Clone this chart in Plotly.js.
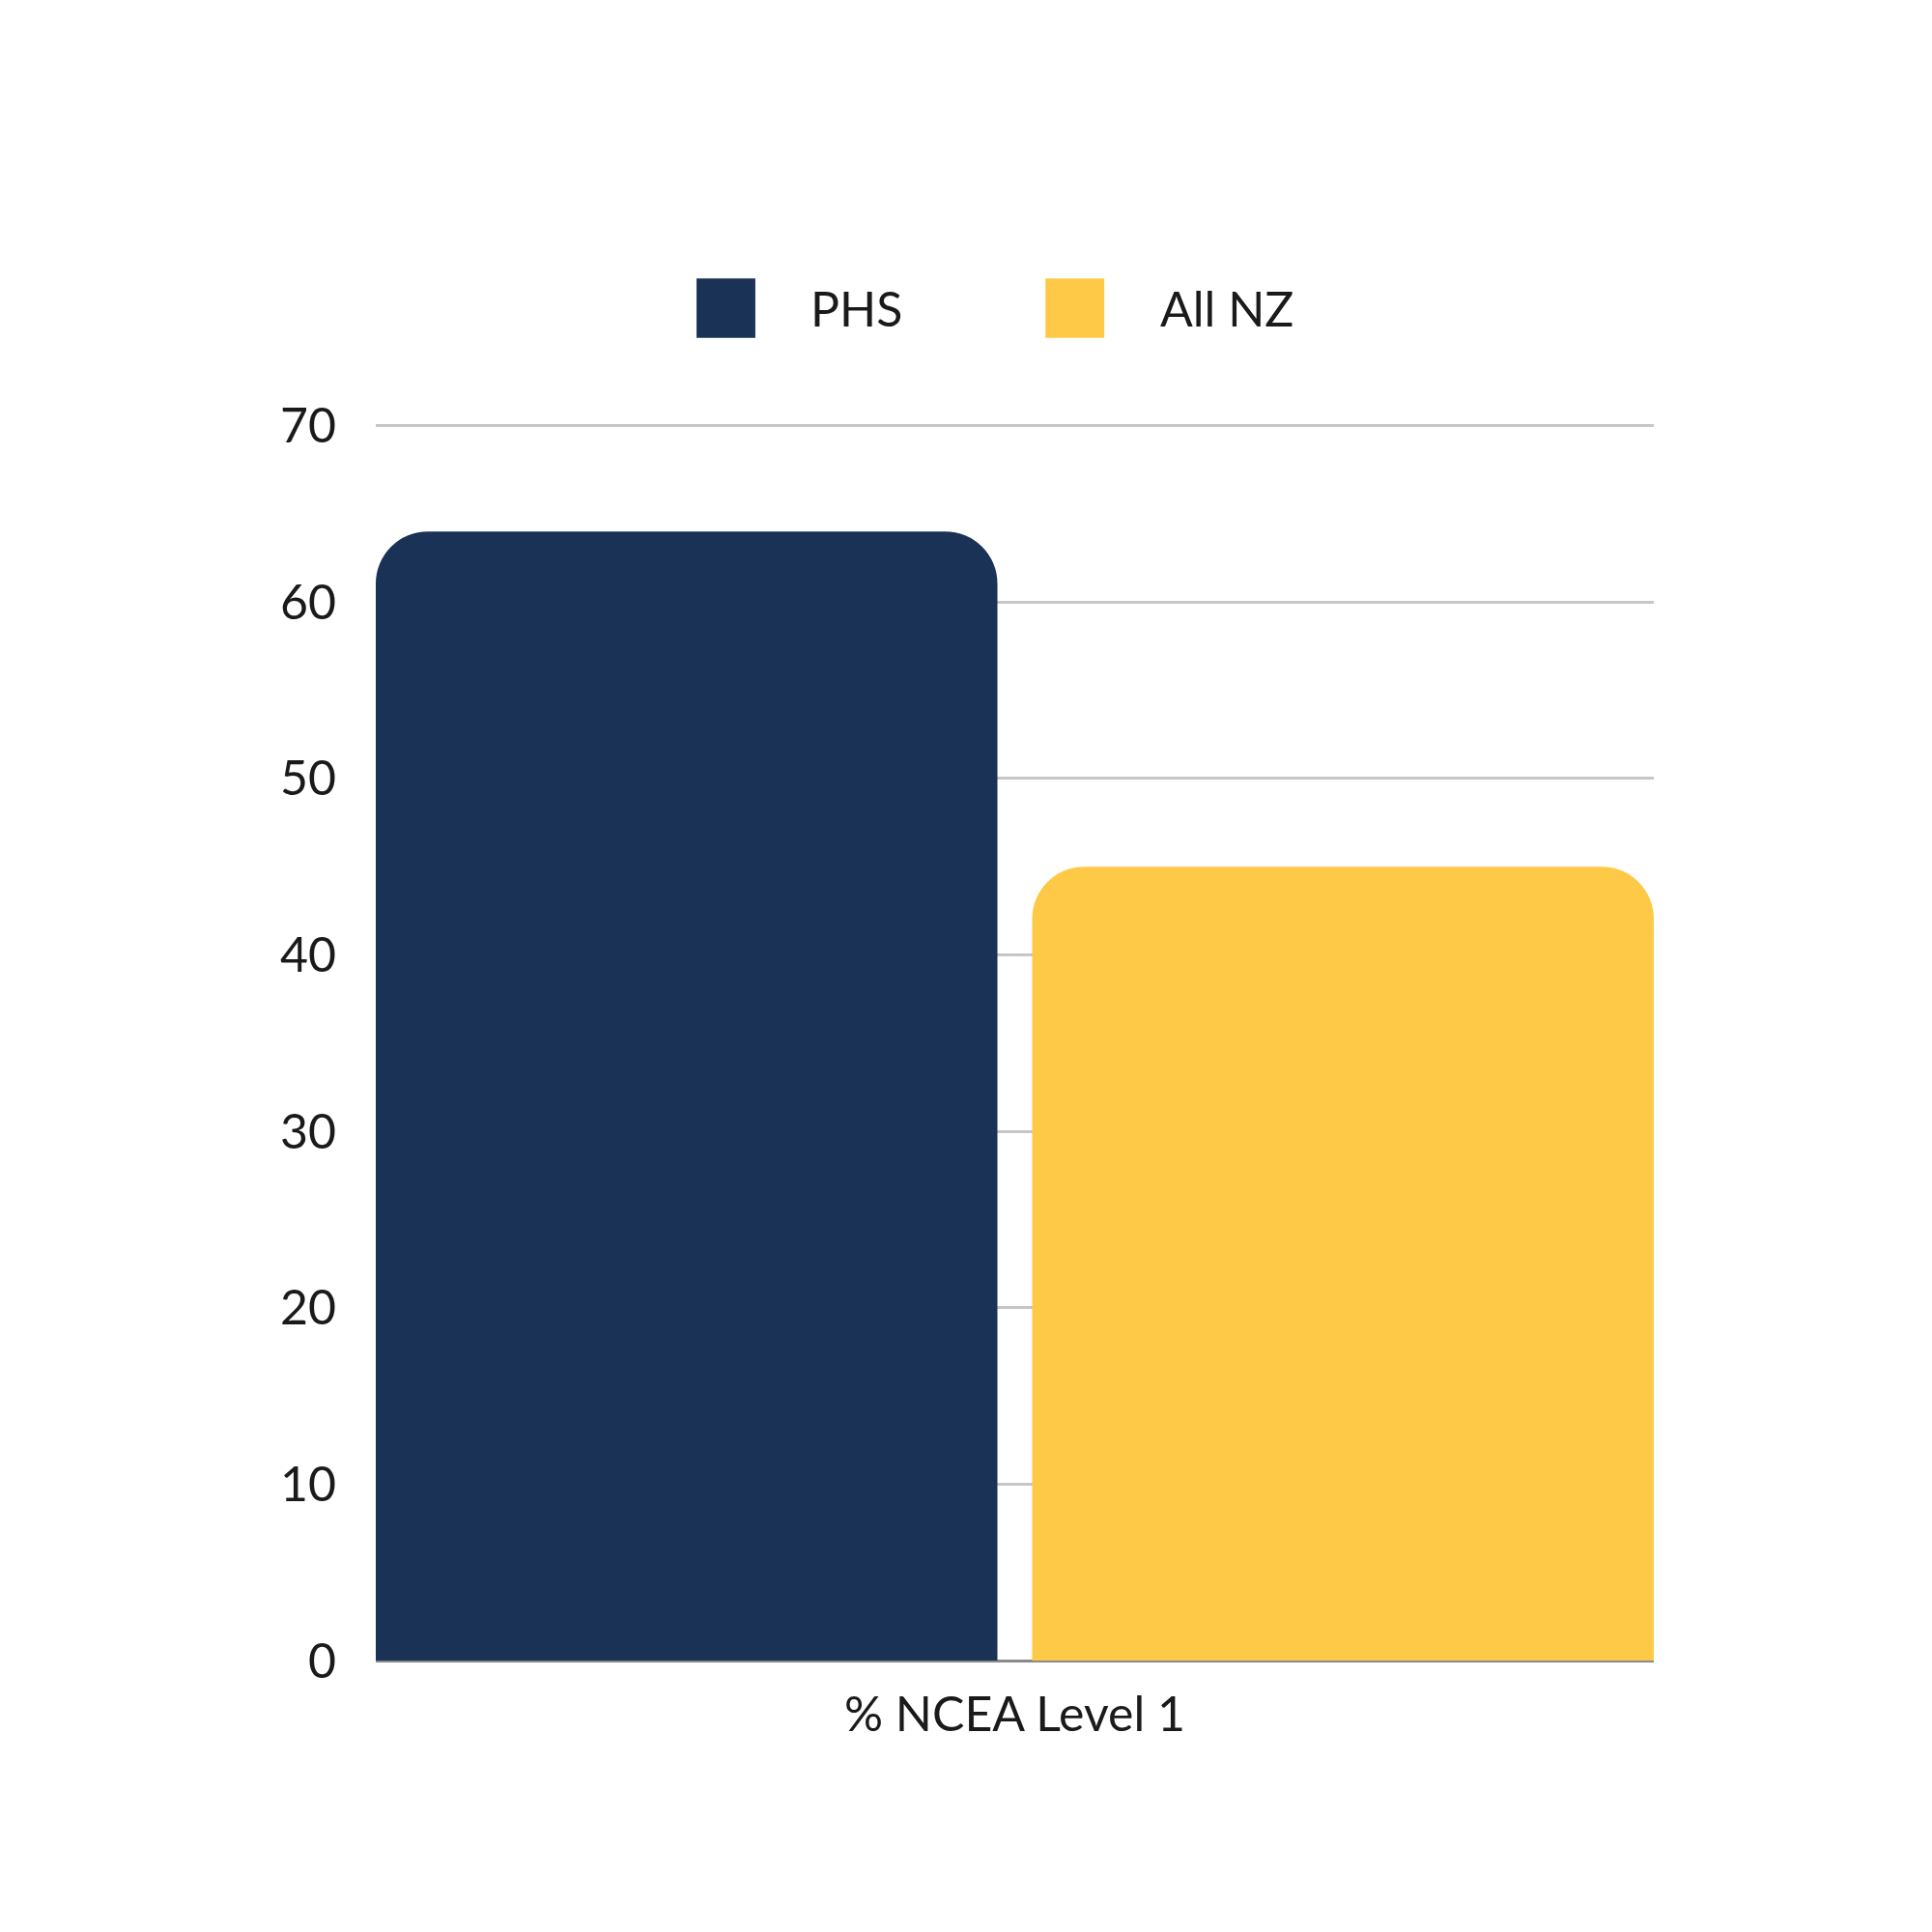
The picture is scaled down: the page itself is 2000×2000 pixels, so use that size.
<!DOCTYPE html>
<html>
<head>
<meta charset="utf-8">
<script src="https://cdn.plot.ly/plotly-3.0.1.min.js"></script>
<style>html,body{margin:0;padding:0;background:#fff;}</style>
</head>
<body>
<div id="chart" style="width:2000px;height:2000px;"></div>
<script>
const categories = ["% NCEA Level 1"];
const seriesNames = ["PHS", "All NZ"];
const phsValues = [64];
const allNzValues = [45];
const seriesColors = ["#193256", "#fec946"];
const yTicks = [0, 10, 20, 30, 40, 50, 60, 70];

const FONT = "Lato, 'Open Sans', sans-serif";
const barW = 0.4864;

const traces = [
  {type: "bar", name: seriesNames[0], x: categories, y: phsValues,
   width: barW, offset: -0.5,
   marker: {color: seriesColors[0], cornerradius: 54, line: {width: 0}},
   hoverinfo: "none"},
  {type: "bar", name: seriesNames[1], x: categories, y: allNzValues,
   width: barW, offset: 0.5 - barW,
   marker: {color: seriesColors[1], cornerradius: 54, line: {width: 0}},
   hoverinfo: "none"}
];

const layout = {
  width: 2000, height: 2000,
  margin: {l: 389, r: 288, t: 437, b: 281},
  paper_bgcolor: "#ffffff", plot_bgcolor: "#ffffff",
  showlegend: false,
  barmode: "overlay",
  font: {family: FONT, color: "#1a1a1a", size: 50},
  xaxis: {
    type: "category", range: [-0.5, 0.5], showgrid: false,
    showline: false, ticks: "", ticklabelstandoff: 22,
    tickfont: {family: FONT, size: 50, color: "#1a1a1a"}
  },
  yaxis: {
    range: [0, 70.2], tickvals: yTicks, ticktext: yTicks.map(String),
    showgrid: true, gridcolor: "#c6c6c6", gridwidth: 3,
    zeroline: true, zerolinecolor: "#8a8a8a", zerolinewidth: 3,
    showline: false, ticks: "", ticklabelstandoff: 40,
    tickfont: {family: FONT, size: 50, color: "#1a1a1a"}
  },
  shapes: [
    {type: "rect", xref: "paper", yref: "paper", x0: 0.251, x1: 0.297, y0: 1.068, y1: 1.116,
     fillcolor: seriesColors[0], line: {width: 0}},
    {type: "rect", xref: "paper", yref: "paper", x0: 0.524, x1: 0.570, y0: 1.068, y1: 1.116,
     fillcolor: seriesColors[1], line: {width: 0}}
  ],
  annotations: [
    {xref: "paper", yref: "paper", x: 0.339, y: 1.092, xanchor: "left", yanchor: "middle",
     text: seriesNames[0], showarrow: false, font: {family: FONT, size: 50, color: "#1a1a1a"}},
    {xref: "paper", yref: "paper", x: 0.612, y: 1.092, xanchor: "left", yanchor: "middle",
     text: seriesNames[1], showarrow: false, font: {family: FONT, size: 50, color: "#1a1a1a"}}
  ]
};

Plotly.newPlot("chart", traces, layout, {displayModeBar: false, staticPlot: true});
</script>
</body>
</html>
